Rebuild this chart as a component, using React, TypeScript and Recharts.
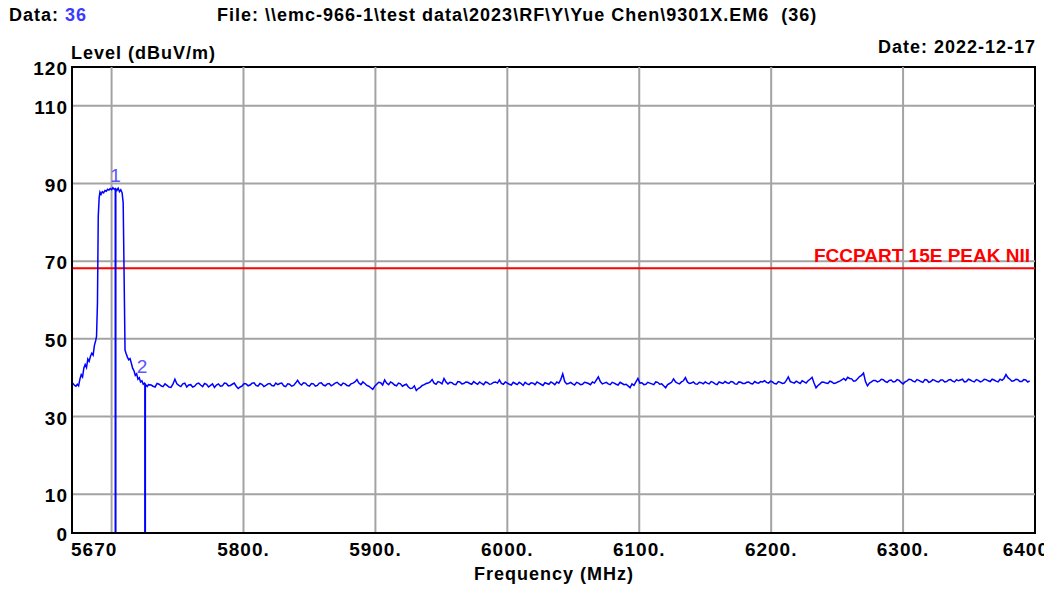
import React from 'react';
import { LineChart, Line, XAxis, YAxis, ReferenceLine, ReferenceArea, ReferenceDot } from 'recharts';

// ---- header texts ----
const dataLabel = 'Data: ';
const dataNumber = '36';
const fileLabel = 'File: \\\\emc-966-1\\test data\\2023\\RF\\Y\\Yue Chen\\9301X.EM6  (36)';
const dateLabel = 'Date: 2022-12-17';
const yTitle = 'Level (dBuV/m)';
const xTitle = 'Frequency (MHz)';

// ---- axes ----
const xTicks = [5670, 5800, 5900, 6000, 6100, 6200, 6300, 6400];
const xTickLabels = ['5670', '5800.', '5900.', '6000.', '6100.', '6200.', '6300.', '6400.'];
const yTicks = [0, 10, 30, 50, 70, 90, 110, 120];
const yTickLabels = ['0', '10', '30', '50', '70', '90', '110', '120'];
const xGridValues = [5700, 5800, 5900, 6000, 6100, 6200, 6300];
const yGridValues = [10, 30, 50, 70, 90, 110];

// ---- limit line ----
const limitLevel = 68.2;
const limitName = 'FCCPART 15E PEAK NII';

// ---- markers ----
const markerNames = ['1', '2'];
const markerFreqs = [5703, 5725.4];
const markerLevels = [88.6, 38.3];

// ---- trace: emission region ----
const peakFreqs = [
  5670, 5671, 5672, 5673, 5674, 5675, 5676, 5677, 5678, 5679,
  5680, 5681, 5682, 5683, 5684, 5685, 5686, 5687, 5688, 5688.6,
  5689.3, 5689.9, 5690.6, 5691.2, 5692, 5693, 5694, 5695, 5696, 5697,
  5698, 5699, 5700, 5701, 5702, 5703, 5704, 5705, 5706, 5707,
  5708, 5708.8, 5709.5, 5710.2, 5711, 5712, 5713, 5714, 5715, 5716,
  5717, 5718, 5719, 5720, 5721, 5722, 5723, 5724, 5725, 5726,
  5727, 5728,
];
const peakLevels = [
  38.8, 38.4, 38.0, 37.8, 38.3, 37.9, 39.6, 40.8, 40.2, 42.5,
  43.4, 42.6, 44.8, 44.2, 45.5, 46.3, 45.8, 48.3, 49.6, 50.6,
  59.2, 81.5, 86.4, 87.8, 87.2, 87.9, 87.6, 88.2, 88.0, 88.5,
  88.3, 88.7, 88.4, 88.9, 88.5, 88.7, 88.2, 88.8, 87.9, 88.4,
  87.6, 85.0, 66.2, 47.1, 46.2, 45.3, 44.6, 44.9, 43.7, 42.4,
  41.8, 40.6, 41.0, 39.6, 40.0, 38.9, 39.2, 38.3, 38.6, 38.1,
  37.7, 38.2,
];

// ---- trace: noise floor, sweep points A ----
const floorFreqs = [
  5730, 5733, 5736, 5739, 5742, 5745, 5748, 5751, 5754, 5757,
  5760, 5763, 5766, 5769, 5772, 5775, 5778, 5781, 5784, 5787,
  5790, 5793, 5796, 5799, 5802, 5805, 5808, 5811, 5814, 5817,
  5820, 5823, 5826, 5829, 5832, 5835, 5838, 5841, 5844, 5847,
  5850, 5853, 5856, 5859, 5862, 5865, 5868, 5871, 5874, 5877,
  5880, 5883, 5886, 5889, 5892, 5895, 5898, 5901, 5904, 5907,
  5910, 5913, 5916, 5919, 5922, 5925, 5928, 5931, 5934, 5937,
  5940, 5943, 5946, 5949, 5952, 5955, 5958, 5961, 5964, 5967,
  5970, 5973, 5976, 5979, 5982, 5985, 5988, 5991, 5994, 5997,
  6000, 6003, 6006, 6009, 6012, 6015, 6018, 6021, 6024, 6027,
  6030, 6033, 6036, 6039, 6042, 6045, 6048, 6051, 6054, 6057,
  6060, 6063, 6066, 6069, 6072, 6075, 6078, 6081, 6084, 6087,
  6090, 6093, 6096, 6099, 6102, 6105, 6108, 6111, 6114, 6117,
  6120, 6123, 6126, 6129, 6132, 6135, 6138, 6141, 6144, 6147,
  6150, 6153, 6156, 6159, 6162, 6165, 6168, 6171, 6174, 6177,
  6180, 6183, 6186, 6189, 6192, 6195, 6198, 6201, 6204, 6207,
  6210, 6213, 6216, 6219, 6222, 6225, 6228, 6231, 6234, 6237,
  6240, 6243, 6246, 6249, 6252, 6255, 6258, 6261, 6264, 6267,
  6270, 6273, 6276, 6279, 6282, 6285, 6288, 6291, 6294, 6297,
  6300, 6303, 6306, 6309, 6312, 6315, 6318, 6321, 6324, 6327,
  6330, 6333, 6336, 6339, 6342, 6345, 6348, 6351, 6354, 6357,
  6360, 6363, 6366, 6369, 6372, 6375, 6378, 6381, 6384, 6387,
  6390, 6393, 6396,
];
const floorLevels = [
  38.1, 37.6, 38.3, 37.7, 38.0, 37.5, 39.6, 38.0, 38.4, 37.6,
  38.2, 37.8, 38.6, 37.7, 38.3, 38.0, 37.5, 38.4, 37.9, 38.5,
  38.0, 38.6, 37.2, 37.9, 38.4, 38.1, 38.7, 37.8, 38.3, 38.0,
  38.5, 37.9, 38.2, 38.6, 37.7, 38.3, 38.0, 39.3, 38.1, 38.6,
  37.8, 38.4, 38.0, 38.7, 37.9, 38.5, 38.2, 38.8, 38.0, 38.4,
  37.9, 38.6, 39.5, 38.2, 38.5, 37.8, 37.0, 38.3, 38.7, 39.4,
  38.2, 38.6, 37.9, 38.4, 38.1, 37.6, 37.3, 36.7, 37.5, 38.2,
  38.6, 39.5, 38.3, 38.8, 39.8, 38.4, 38.7, 38.2, 38.9, 38.5,
  38.8, 38.3, 38.6, 38.9, 38.2, 38.7, 38.4, 38.9, 39.4, 38.3,
  38.6, 38.1, 38.5, 38.8, 38.0, 38.4, 38.7, 38.2, 38.6, 38.0,
  38.5, 38.9, 38.2, 38.6, 41.0, 38.4, 38.8, 38.1, 38.6, 38.3,
  38.7, 38.2, 38.6, 40.2, 38.4, 38.8, 38.2, 38.6, 38.1, 38.5,
  38.3, 37.4, 38.0, 39.8, 38.7, 38.3, 38.6, 38.2, 38.8, 38.4,
  37.4, 38.5, 39.7, 38.6, 38.9, 40.0, 38.5, 38.9, 38.3, 38.7,
  38.9, 38.4, 38.8, 38.2, 38.7, 39.0, 38.5, 38.9, 38.3, 38.8,
  38.5, 38.9, 38.4, 38.7, 39.0, 39.2, 38.6, 38.9, 38.4, 38.8,
  38.6, 40.2, 38.8, 39.1, 38.5, 38.9, 39.2, 40.1, 37.4, 38.4,
  38.8, 38.5, 38.9, 38.6, 39.1, 39.8, 40.1, 39.7, 39.2, 40.3,
  41.2, 37.9, 38.9, 39.3, 39.1, 39.5, 38.8, 39.4, 39.0, 39.3,
  38.4, 39.2, 39.5, 38.9, 39.3, 38.8, 39.4, 39.0, 39.3, 38.9,
  39.4, 39.0, 39.5, 38.9, 39.2, 39.6, 39.0, 39.4, 38.9, 39.3,
  39.1, 39.5, 39.0, 39.4, 38.9, 39.3, 40.8, 39.6, 39.2, 39.5,
  39.0, 39.4, 39.2,
];

// ---- trace: noise floor, sweep points B (in between) ----
const floorMidFreqs = [
  5731.5, 5734.5, 5737.5, 5740.5, 5743.5, 5746.5, 5749.5, 5752.5, 5755.5, 5758.5,
  5761.5, 5764.5, 5767.5, 5770.5, 5773.5, 5776.5, 5779.5, 5782.5, 5785.5, 5788.5,
  5791.5, 5794.5, 5797.5, 5800.5, 5803.5, 5806.5, 5809.5, 5812.5, 5815.5, 5818.5,
  5821.5, 5824.5, 5827.5, 5830.5, 5833.5, 5836.5, 5839.5, 5842.5, 5845.5, 5848.5,
  5851.5, 5854.5, 5857.5, 5860.5, 5863.5, 5866.5, 5869.5, 5872.5, 5875.5, 5878.5,
  5881.5, 5884.5, 5887.5, 5890.5, 5893.5, 5896.5, 5899.5, 5902.5, 5905.5, 5908.5,
  5911.5, 5914.5, 5917.5, 5920.5, 5923.5, 5926.5, 5929.5, 5932.5, 5935.5, 5938.5,
  5941.5, 5944.5, 5947.5, 5950.5, 5953.5, 5956.5, 5959.5, 5962.5, 5965.5, 5968.5,
  5971.5, 5974.5, 5977.5, 5980.5, 5983.5, 5986.5, 5989.5, 5992.5, 5995.5, 5998.5,
  6001.5, 6004.5, 6007.5, 6010.5, 6013.5, 6016.5, 6019.5, 6022.5, 6025.5, 6028.5,
  6031.5, 6034.5, 6037.5, 6040.5, 6043.5, 6046.5, 6049.5, 6052.5, 6055.5, 6058.5,
  6061.5, 6064.5, 6067.5, 6070.5, 6073.5, 6076.5, 6079.5, 6082.5, 6085.5, 6088.5,
  6091.5, 6094.5, 6097.5, 6100.5, 6103.5, 6106.5, 6109.5, 6112.5, 6115.5, 6118.5,
  6121.5, 6124.5, 6127.5, 6130.5, 6133.5, 6136.5, 6139.5, 6142.5, 6145.5, 6148.5,
  6151.5, 6154.5, 6157.5, 6160.5, 6163.5, 6166.5, 6169.5, 6172.5, 6175.5, 6178.5,
  6181.5, 6184.5, 6187.5, 6190.5, 6193.5, 6196.5, 6199.5, 6202.5, 6205.5, 6208.5,
  6211.5, 6214.5, 6217.5, 6220.5, 6223.5, 6226.5, 6229.5, 6232.5, 6235.5, 6238.5,
  6241.5, 6244.5, 6247.5, 6250.5, 6253.5, 6256.5, 6259.5, 6262.5, 6265.5, 6268.5,
  6271.5, 6274.5, 6277.5, 6280.5, 6283.5, 6286.5, 6289.5, 6292.5, 6295.5, 6298.5,
  6301.5, 6304.5, 6307.5, 6310.5, 6313.5, 6316.5, 6319.5, 6322.5, 6325.5, 6328.5,
  6331.5, 6334.5, 6337.5, 6340.5, 6343.5, 6346.5, 6349.5, 6352.5, 6355.5, 6358.5,
  6361.5, 6364.5, 6367.5, 6370.5, 6373.5, 6376.5, 6379.5, 6382.5, 6385.5, 6388.5,
  6391.5, 6394.5,
];
const floorMidLevels = [
  37.8, 38.5, 37.9, 38.4, 37.6, 38.3, 38.4, 37.7, 38.6, 38.1,
  37.6, 38.4, 38.1, 38.5, 37.6, 38.4, 38.1, 37.8, 38.6, 37.9,
  38.3, 37.8, 37.6, 38.5, 37.9, 38.6, 38.0, 38.5, 37.7, 38.4,
  38.0, 38.6, 38.5, 37.9, 38.4, 37.8, 38.6, 38.5, 38.7, 38.0,
  38.5, 37.8, 38.6, 38.1, 38.4, 37.9, 38.6, 38.3, 38.6, 38.0,
  38.4, 38.9, 38.6, 38.9, 38.0, 37.4, 37.8, 38.8, 38.1, 38.6,
  38.9, 38.1, 38.6, 37.8, 38.3, 37.2, 37.9, 37.2, 38.0, 38.5,
  38.9, 38.6, 39.0, 38.4, 38.9, 38.8, 38.3, 39.0, 38.4, 38.9,
  38.5, 39.0, 38.3, 38.5, 38.9, 38.3, 38.8, 38.6, 38.5, 38.9,
  38.3, 38.8, 38.2, 38.5, 38.8, 38.2, 38.6, 38.9, 38.3, 38.7,
  38.3, 38.6, 38.9, 39.5, 39.0, 38.5, 38.4, 38.8, 38.2, 38.8,
  38.5, 38.9, 39.4, 39.0, 38.6, 38.4, 38.8, 38.3, 38.8, 38.2,
  37.9, 38.4, 38.9, 38.6, 38.2, 38.8, 38.4, 38.9, 38.3, 37.9,
  38.2, 38.8, 38.9, 38.4, 39.2, 38.9, 38.6, 38.4, 38.8, 38.4,
  38.6, 39.0, 38.4, 38.9, 38.5, 38.7, 39.0, 38.4, 38.9, 38.5,
  38.8, 38.5, 39.0, 38.6, 38.9, 38.8, 39.1, 38.5, 39.0, 38.5,
  39.3, 39.0, 38.6, 38.8, 39.2, 38.6, 39.6, 38.6, 38.0, 38.9,
  38.6, 39.1, 38.5, 38.9, 39.4, 39.3, 39.8, 39.1, 39.7, 40.6,
  39.0, 38.6, 39.3, 38.9, 39.6, 39.0, 39.3, 38.9, 39.5, 38.8,
  38.9, 39.6, 39.1, 39.5, 39.0, 39.5, 38.8, 39.5, 39.0, 39.4,
  38.9, 39.4, 39.1, 39.5, 39.4, 38.9, 39.6, 39.1, 39.5, 38.9,
  39.6, 39.2, 39.6, 39.1, 39.6, 39.8, 40.0, 39.1, 39.6, 39.0,
  39.5, 38.9,
];

const chartData = [
  ...peakFreqs.map((f, i) => ({ freq: f, level: peakLevels[i] })),
  ...floorFreqs.map((f, i) => ({ freq: f, level: floorLevels[i] })),
  ...floorMidFreqs.map((f, i) => ({ freq: f, level: floorMidLevels[i] })),
].sort((a, b) => a.freq - b.freq);

const FONT = '"Liberation Sans", Arial, sans-serif';
const TRACE = '#0000ff';
const GRID = '#a3a3a3';

const XTick = (props: any) => {
  const { x, y, payload } = props;
  const i = xTicks.indexOf(payload.value);
  const first = i === 0;
  const last = i === xTicks.length - 1;
  return (
    <text
      x={first ? x - 1 : last ? x - 6 : x}
      y={y}
      dy={19}
      textAnchor={first ? 'start' : 'middle'}
      fontFamily={FONT}
      fontWeight="bold"
      fontSize={19}
      letterSpacing={1}
      fill="#000"
    >
      {xTickLabels[i]}
    </text>
  );
};

const YTick = (props: any) => {
  const { x, y, payload } = props;
  const i = yTicks.indexOf(payload.value);
  return (
    <text
      x={x}
      y={y}
      dy={8}
      textAnchor="end"
      fontFamily={FONT}
      fontWeight="bold"
      fontSize={19}
      letterSpacing={1}
      fill="#000"
    >
      {yTickLabels[i]}
    </text>
  );
};

const LimitLabel = (props: any) => {
  const vb = props.viewBox || {};
  return (
    <text
      x={(vb.x || 0) + (vb.width || 0) - 5}
      y={(vb.y || 0) - 6}
      textAnchor="end"
      fontFamily={FONT}
      fontWeight="bold"
      fontSize={19}
      fill="#ff0000"
    >
      {limitName}
    </text>
  );
};

const markerShape = (name: string, dx: number, dy: number) => (p: any) => (
  <text
    x={p.cx + dx}
    y={p.cy + dy}
    textAnchor="middle"
    fontFamily={FONT}
    fontSize={19}
    fill="#5b55ff"
  >
    {name}
  </text>
);

const markerOffsets = [
  [0, -7],
  [-3, -11],
];

export default function App() {
  return (
    <div style={{ position: 'absolute', left: 0, top: 0, width: 1044, height: 590, background: '#fff' }}>
      <LineChart
        width={1044}
        height={590}
        data={chartData}
        margin={{ top: 67, right: 9, bottom: 27, left: 12 }}
      >
        <XAxis
          dataKey="freq"
          type="number"
          domain={[5670, 6400]}
          ticks={xTicks}
          interval={0}
          allowDataOverflow
          height={30}
          tickLine={false}
          tickSize={0}
          tickMargin={4}
          axisLine={{ stroke: '#000', strokeWidth: 2 }}
          tick={<XTick />}
        />
        <YAxis
          type="number"
          domain={[0, 120]}
          ticks={yTicks}
          interval={0}
          allowDataOverflow
          width={60}
          tickLine={false}
          tickSize={0}
          tickMargin={4}
          axisLine={{ stroke: '#000', strokeWidth: 2 }}
          tick={<YTick />}
        />
        {xGridValues.map((v) => (
          <ReferenceLine key={'gx' + v} x={v} stroke={GRID} strokeWidth={2} />
        ))}
        {yGridValues.map((v) => (
          <ReferenceLine key={'gy' + v} y={v} stroke={GRID} strokeWidth={2} />
        ))}
        <ReferenceLine y={limitLevel} stroke="#ff0000" strokeWidth={2} label={<LimitLabel />} />
        <ReferenceArea x1={5670} x2={6400} y1={0} y2={120} fill="none" fillOpacity={0} stroke="#000" strokeWidth={2} />
        {markerFreqs.map((f, i) => (
          <ReferenceLine
            key={'m' + i}
            segment={[
              { x: f, y: 0 },
              { x: f, y: markerLevels[i] },
            ]}
            stroke={TRACE}
            strokeWidth={2}
          />
        ))}
        <Line
          type="linear"
          dataKey="level"
          stroke={TRACE}
          strokeWidth={1.5}
          dot={false}
          isAnimationActive={false}
        />
        {markerFreqs.map((f, i) => (
          <ReferenceDot
            key={'ml' + i}
            x={f}
            y={markerLevels[i]}
            r={0}
            shape={markerShape(markerNames[i], markerOffsets[i][0], markerOffsets[i][1])}
          />
        ))}
      </LineChart>
      <svg
        width={1044}
        height={590}
        style={{ position: 'absolute', left: 0, top: 0, pointerEvents: 'none' }}
      >
        <g fontFamily={FONT} fontWeight="bold" fontSize={18} letterSpacing={1} fill="#000">
          <text x={9} y={21}>
            {dataLabel}
            <tspan fill="#3b3bff">{dataNumber}</tspan>
          </text>
          <text x={217} y={21} style={{ whiteSpace: 'pre' }}>
            {fileLabel}
          </text>
          <text x={1036} y={53} textAnchor="end">
            {dateLabel}
          </text>
          <text x={71} y={59}>
            {yTitle}
          </text>
          <text x={554} y={580} textAnchor="middle">
            {xTitle}
          </text>
        </g>
      </svg>
    </div>
  );
}
